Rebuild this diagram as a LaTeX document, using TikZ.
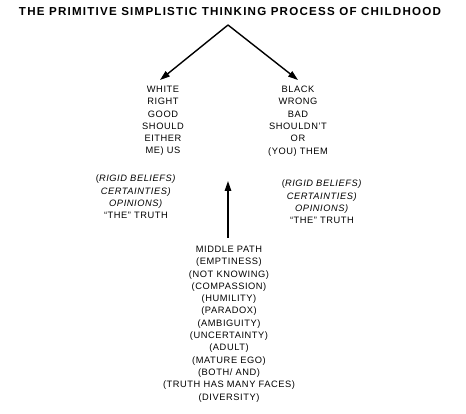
\documentclass[tikz,border=0pt]{standalone}
\usepackage{fontspec}
\setmainfont{Liberation Sans}
\newfontfamily\titlefont[LetterSpace=10.5]{Liberation Sans}
\newfontfamily\bodyfont[LetterSpace=6]{Liberation Sans}
\usetikzlibrary{arrows.meta}
\tikzset{
  lbl/.style={inner sep=1pt, align=center, font=\bodyfont\fontsize{9.3}{12.3}\selectfont},
  ttl/.style={inner sep=1pt, font=\titlefont\bfseries\fontsize{11.6}{14}\selectfont},
  arr/.style={line width=1.4pt, -{Triangle[length=10pt,width=6.5pt]}}
}
\begin{document}
\begin{tikzpicture}[x=1pt,y=-1pt]
\useasboundingbox[fill=white] (0,0) rectangle (466,414);
\node[ttl] (title) at (230,12) {THE PRIMITIVE SIMPLISTIC THINKING PROCESS OF CHILDHOOD};
\node[lbl] (white) at (163,121) {WHITE\\RIGHT\\GOOD\\SHOULD\\EITHER\\ME) US};
\node[lbl] (black) at (298,121) {BLACK\\WRONG\\BAD\\SHOULDN’T\\OR\\(YOU) THEM};
\node[lbl] (leftb) at (136,197) {(\textit{RIGID BELIEFS)}\\\textit{CERTAINTIES)}\\\textit{OPINIONS)}\\“THE” TRUTH};
\node[lbl] (rightb) at (322,202) {(\textit{RIGID BELIEFS)}\\\textit{CERTAINTIES)}\\\textit{OPINIONS)}\\“THE” TRUTH};
\node[lbl] (middle) at (229,324) {MIDDLE PATH\\(EMPTINESS)\\(NOT KNOWING)\\(COMPASSION)\\(HUMILITY)\\(PARADOX)\\(AMBIGUITY)\\(UNCERTAINTY)\\(ADULT)\\(MATURE EGO)\\(BOTH/ AND)\\(TRUTH HAS MANY FACES)\\(DIVERSITY)};
\coordinate (apex) at (228,25);
\coordinate (ltip) at (160,80);
\coordinate (rtip) at (298,80);
\coordinate (upbase) at (228,238);
\coordinate (uptip) at (228,181);
\draw[arr] (apex) -- (ltip);
\draw[arr] (apex) -- (rtip);
\draw[arr] (upbase) -- (uptip);
\end{tikzpicture}
\end{document}
